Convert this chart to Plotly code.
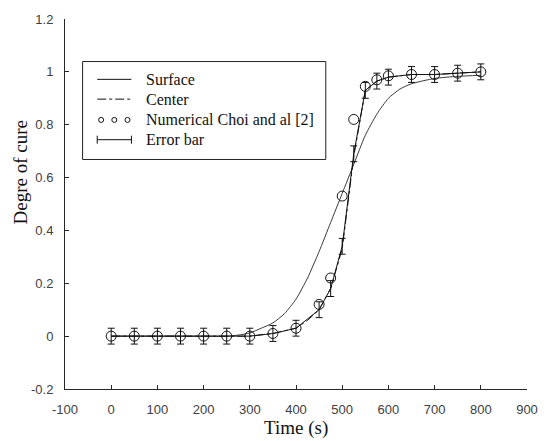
import plotly.graph_objects as go

# ---------------- data ----------------
surface_t = [0, 50, 100, 150, 200, 250, 275, 300, 325, 350, 375, 400, 425, 450, 475, 500,
             525, 550, 575, 600, 625, 650, 700, 750, 800]
surface_d = [0, 0, 0, 0, 0, 0.0, 0.004, 0.012, 0.03, 0.05, 0.085, 0.14, 0.22, 0.32, 0.43, 0.54,
             0.65, 0.76, 0.84, 0.90, 0.935, 0.955, 0.975, 0.983, 0.987]

center_t = [0, 50, 100, 150, 200, 250, 300, 350, 400, 425, 450, 475, 500, 525, 550, 575,
            600, 650, 700, 750, 800]
center_d = [0, 0, 0, 0, 0, 0, 0, 0.01, 0.03, 0.06, 0.10, 0.18, 0.33, 0.68, 0.93, 0.965,
            0.98, 0.99, 0.99, 0.995, 1.0]

choi_t = [0, 50, 100, 150, 200, 250, 300, 350, 400, 450, 475, 500, 525, 550, 575, 600,
          650, 700, 750, 800]
choi_d = [0, 0, 0, 0, 0, 0, 0, 0.01, 0.03, 0.12, 0.22, 0.53, 0.82, 0.945, 0.97, 0.985,
          0.99, 0.99, 0.995, 1.0]

err_t = [0, 50, 100, 150, 200, 250, 300, 350, 400, 450, 475, 500, 525, 550, 575, 600,
         650, 700, 750, 800]
err_d = [0, 0, 0, 0, 0, 0, 0, 0.01, 0.03, 0.10, 0.18, 0.34, 0.69, 0.93, 0.965, 0.98,
         0.99, 0.99, 0.995, 1.0]
err_e = [0.03] * len(err_t)

x_ticks = [-100, 0, 100, 200, 300, 400, 500, 600, 700, 800, 900]
x_ticktext = ["-100", "0", "100", "200", "300", "400", "500", "600", "700", "800", "900"]
y_ticks = [-0.2, 0, 0.2, 0.4, 0.6, 0.8, 1.0, 1.2]
y_ticktext = ["-0.2", "0", "0.2", "0.4", "0.6", "0.8", "1", "1.2"]

legend_labels = ["Surface", "Center", "Numerical Choi and al [2]", "Error bar"]

# ---------------- figure ----------------
W, H = 550, 441
ML, MR, MT, MB = 65, 12, 15, 52
PW, PH = W - ML - MR, H - MT - MB

def px2paper(px, py):
    return (px - ML) / PW, (H - MB - py) / PH

fig = go.Figure()

fig.add_trace(go.Scatter(x=surface_t, y=surface_d, mode="lines",
                         line=dict(color="#3a3a3a", width=1, shape="spline", smoothing=0.6),
                         showlegend=False))
fig.add_trace(go.Scatter(x=err_t, y=err_d, mode="lines",
                         line=dict(color="#111111", width=1),
                         error_y=dict(type="data", array=err_e, visible=True,
                                      color="#111111", thickness=1, width=3.5),
                         showlegend=False))
fig.add_trace(go.Scatter(x=center_t, y=center_d, mode="lines",
                         line=dict(color="#111111", width=1, dash="dashdot"),
                         showlegend=False))
fig.add_trace(go.Scatter(x=choi_t, y=choi_d, mode="markers",
                         marker=dict(symbol="circle-open", size=10, color="#111111",
                                     line=dict(width=1, color="#111111")),
                         showlegend=False))

# ---------------- manual legend ----------------
shapes = []
annotations = []
bx0, by0 = px2paper(83, 157)
bx1, by1 = px2paper(332, 58)
shapes.append(dict(type="rect", xref="paper", yref="paper", x0=bx0, y0=by0, x1=bx1, y1=by1,
                   line=dict(color="#222222", width=1), fillcolor="white", layer="above"))
rows_py = [76, 96, 117, 137]
sx0, _ = px2paper(98, 0)
sx1, _ = px2paper(133, 0)
tx, _ = px2paper(146, 0)
for i, (lab, rpy) in enumerate(zip(legend_labels, rows_py)):
    _, ry = px2paper(0, rpy)
    if i == 0:
        shapes.append(dict(type="line", xref="paper", yref="paper", x0=sx0, x1=sx1, y0=ry, y1=ry,
                           line=dict(color="#111111", width=1), layer="above"))
    elif i == 1:
        shapes.append(dict(type="line", xref="paper", yref="paper", x0=sx0, x1=sx1, y0=ry, y1=ry,
                           line=dict(color="#111111", width=1, dash="dashdot"), layer="above"))
    elif i == 2:
        for cpx in [102, 115.5, 129]:
            cx, _ = px2paper(cpx, 0)
            shapes.append(dict(type="circle", xref="paper", yref="paper",
                               xsizemode="pixel", ysizemode="pixel", xanchor=cx, yanchor=ry,
                               x0=-2.5, x1=2.5, y0=-2.5, y1=2.5,
                               line=dict(color="#111111", width=1), layer="above"))
    else:
        shapes.append(dict(type="line", xref="paper", yref="paper", x0=sx0, x1=sx1, y0=ry, y1=ry,
                           line=dict(color="#111111", width=1), layer="above"))
        for ex in [sx0, sx1]:
            shapes.append(dict(type="line", xref="paper", yref="paper", ysizemode="pixel",
                               yanchor=ry, x0=ex, x1=ex, y0=-4, y1=4,
                               line=dict(color="#111111", width=1), layer="above"))
    annotations.append(dict(xref="paper", yref="paper", x=tx, y=ry, text=lab, showarrow=False,
                            xanchor="left", yanchor="middle",
                            font=dict(family="Liberation Serif", size=16, color="#111111")))

# axis titles
axt_x, axt_y = px2paper(301, 428)
annotations.append(dict(xref="paper", yref="paper", x=axt_x, y=axt_y, text="Time (s)",
                        showarrow=False, xanchor="center", yanchor="middle",
                        font=dict(family="Liberation Serif", size=19, color="#111111")))
ayt_x, ayt_y = px2paper(19, 170)
annotations.append(dict(xref="paper", yref="paper", x=ayt_x, y=ayt_y, text="Degre of cure",
                        showarrow=False, xanchor="center", yanchor="middle", textangle=-90,
                        font=dict(family="Liberation Serif", size=19, color="#111111")))

axis_common = dict(showline=True, linecolor="#262626", linewidth=1, mirror=False,
                   ticks="inside", ticklen=4, tickcolor="#262626", tickwidth=1,
                   showgrid=False, zeroline=False,
                   tickfont=dict(family="Liberation Sans", size=13, color="#404040"))

fig.update_layout(
    width=W, height=H,
    margin=dict(l=ML, r=MR, t=MT, b=MB, pad=0),
    paper_bgcolor="white", plot_bgcolor="white",
    xaxis=dict(range=[-100, 900], tickvals=x_ticks, ticktext=x_ticktext,
               ticklabelstandoff=8, **axis_common),
    yaxis=dict(range=[-0.2, 1.2], tickvals=y_ticks, ticktext=y_ticktext,
               ticklabelstandoff=8, **axis_common),
    shapes=shapes, annotations=annotations,
    showlegend=False,
)

fig.write_html("out.html")
